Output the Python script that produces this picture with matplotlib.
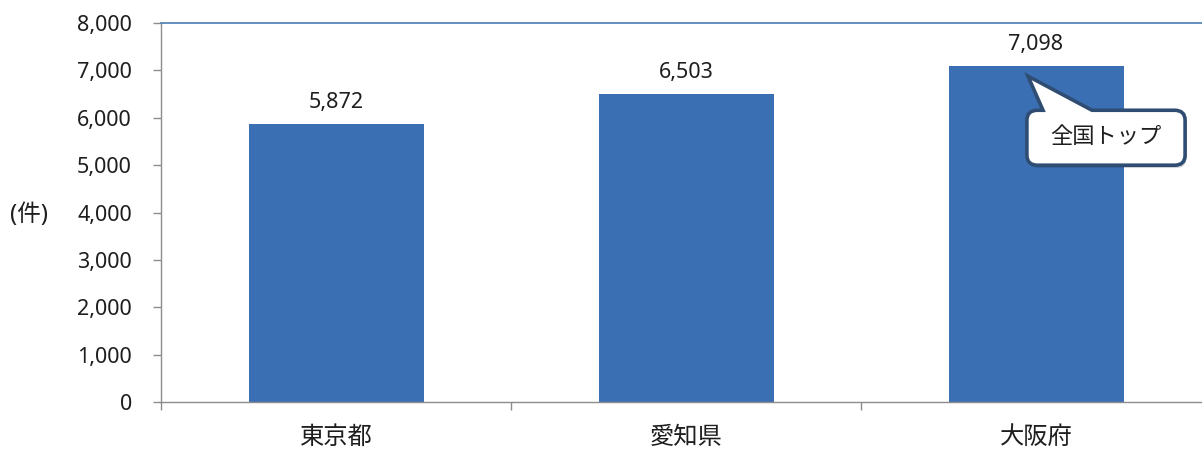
import matplotlib
matplotlib.use("Agg")
import matplotlib.pyplot as plt
from matplotlib.path import Path
from matplotlib.patches import PathPatch
from matplotlib.ticker import FuncFormatter, FixedLocator

# Latin digits from Noto Sans, Japanese falls through to the CJK family
plt.rcParams['font.family'] = ['Noto Sans', 'Noto Sans CJK JP', 'DejaVu Sans']

prefectures = ["東京都", "愛知県", "大阪府"]
counts = [5872, 6503, 7098]
callout_text = "全国トップ"
unit_label = "(件)"

bar_color = "#3b6fb3"
text_color = "#1e1e1e"
axis_gray = "#8c8c8c"

fig = plt.figure(figsize=(12.02, 4.5), dpi=100)
# plot area runs past the right edge of the figure
ax = fig.add_axes([161 / 1202, 48 / 450, 1050 / 1202, 379 / 450])

x = list(range(len(prefectures)))
bars = ax.bar(x, counts, width=0.5, color=bar_color, zorder=2)

ax.set_xlim(-0.5, len(prefectures) - 0.5)
ax.set_ylim(0, 8000)
ax.set_yticks(range(0, 8001, 1000))
ax.yaxis.set_major_formatter(FuncFormatter(lambda v, p: f"{int(v):,}"))
ax.tick_params(axis='y', direction='out', length=6, width=1, color=axis_gray,
               pad=15, labelsize=15.5, labelcolor=text_color)

ax.set_xticks(x)
ax.set_xticklabels(prefectures, fontsize=17.5)
ax.tick_params(axis='x', which='major', length=0, pad=17,
               labelcolor=text_color)
ax.xaxis.set_minor_locator(FixedLocator([i - 0.5 for i in range(len(prefectures) + 1)]))
ax.tick_params(axis='x', which='minor', direction='out', length=6, width=1,
               color=axis_gray)

for side in ['left', 'bottom']:
    ax.spines[side].set_color(axis_gray)
    ax.spines[side].set_linewidth(1)
ax.spines['top'].set_color("#4d7db5")
ax.spines['top'].set_linewidth(1.2)
ax.spines['right'].set_visible(False)

for rect, v in zip(bars, counts):
    ax.annotate(f"{v:,}", (rect.get_x() + rect.get_width() / 2, v),
                xytext=(0, 8), textcoords='offset points', ha='center',
                va='bottom', fontsize=15.5, color=text_color)

fig.text(29 / 1202, 1 - 215 / 450, unit_label, ha='center', va='center',
         fontsize=17, color=text_color)

# speech bubble pointing at the top bar
top = counts.index(max(counts))
tip_x, tip_y = top - 0.023, counts[top] - 220
left, right = tip_x - 0.003, tip_x + 0.449
btop, bbot = tip_y - 720, tip_y - 1880
rx, ry = 0.03, 210
t1, t2 = tip_x + 0.043, tip_x + 0.183
verts = [
    (left + rx, btop), (t1, btop), (tip_x, tip_y), (t2, btop),
    (right - rx, btop), (right, btop), (right, btop - ry),
    (right, bbot + ry), (right, bbot), (right - rx, bbot),
    (left + rx, bbot), (left, bbot), (left, bbot + ry),
    (left, btop - ry), (left, btop), (left + rx, btop),
    (left + rx, btop),
]
codes = [Path.MOVETO, Path.LINETO, Path.LINETO, Path.LINETO,
         Path.LINETO, Path.CURVE3, Path.CURVE3,
         Path.LINETO, Path.CURVE3, Path.CURVE3,
         Path.LINETO, Path.CURVE3, Path.CURVE3,
         Path.LINETO, Path.CURVE3, Path.CURVE3,
         Path.CLOSEPOLY]
bubble = Path(verts, codes)
shadow = [(vx + 0.004, vy - 60) for vx, vy in verts]
ax.add_patch(PathPatch(Path(shadow, codes), facecolor='#1c2f4a', alpha=0.2,
                       edgecolor='none', zorder=3, clip_on=False))
ax.add_patch(PathPatch(bubble, facecolor='white', edgecolor='#2f4d72',
                       linewidth=2.6, zorder=4, clip_on=False))
ax.text((left + right) / 2, (btop + bbot) / 2, callout_text, ha='center',
        va='center', fontsize=16, color=text_color, zorder=5)

fig.savefig("out.png", dpi=100)
